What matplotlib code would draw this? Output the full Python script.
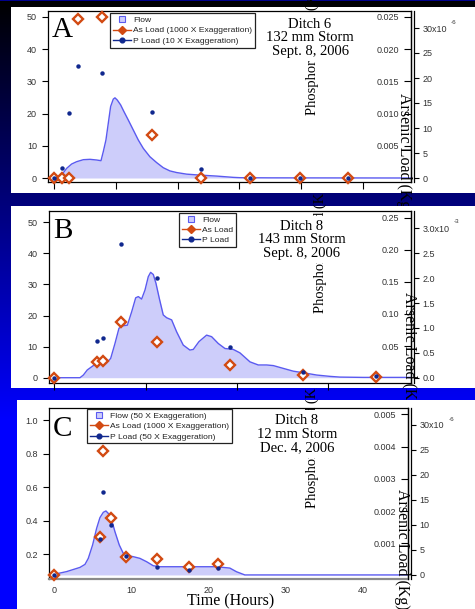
import numpy as np
import matplotlib
matplotlib.use("Agg")
import matplotlib.pyplot as plt
from matplotlib.lines import Line2D
from matplotlib.patches import Rectangle

W, H = 475, 609
SANS = ["Liberation Sans", "DejaVu Sans"]
SERIF = ["Liberation Serif", "DejaVu Serif"]

FLOW_FILL = "#cdcdfa"
FLOW_LINE = "#5a5af0"
AS_COLOR = "#d24a12"
P_COLOR = "#10288e"
TICK_TXT = "#333333"

# ---- Ditch 6, 132 mm storm, Sept. 8, 2006 ----
a_flow_t = [0, 1.24, 2.05, 2.86, 3.67, 4.75, 5.83, 6.9, 7.61, 7.98, 8.41, 8.79, 9.17,
            9.6, 9.87, 10.25, 10.79, 11.33, 12.03, 12.84, 13.65, 14.46, 15.53, 16.61,
            17.69, 18.77, 19.85, 21.47, 23.63, 26.32, 29.02, 30.1, 35.0, 57.8]
a_flow = [0, 0.93, 3.0, 4.35, 5.07, 5.69, 5.8, 5.59, 5.38, 8.18, 11.8, 17.0, 22.2,
          24.5, 24.9, 24.2, 22.7, 20.6, 18.0, 14.9, 11.8, 9.2, 6.6, 4.8,
          3.2, 2.2, 1.7, 1.2, 0.9, 0.6, 0.2, 0.1, 0.05, 0.0]
a_sample_t = [0, 1.29, 2.43, 3.94, 7.82, 15.8, 23.84, 31.8, 39.8, 47.6]
a_as_load = [0, 0, 0, 49.4, 50.1, 13.5, 0, 0, 0, 0]
a_p_load = [0, 3.0, 20.1, 34.8, 32.5, 20.6, 2.8, 0, 0, 0]

# ---- Ditch 8, 143 mm storm, Sept. 8, 2006 ----
b_flow_t = [0, 2.81, 3.18, 3.61, 4.27, 5.0, 5.73, 6.17, 6.64, 7.08, 7.48, 8.0, 8.47,
            8.91, 9.2, 9.56, 9.93, 10.29, 10.55, 10.84, 11.13, 11.5, 11.93, 12.3,
            12.85, 13.39, 14.12, 14.85, 15.22, 15.84, 16.68, 17.23, 17.96, 18.69,
            19.6, 20.33, 21.43, 22.34, 23.26, 23.99, 25.08, 26.18, 27.27, 28.74,
            30.2, 31.29, 33.84, 39.0]
b_flow = [0, 0, 0.86, 2.5, 3.9, 4.4, 4.8, 6.2, 11.0, 15.9, 16.7, 16.9, 21.2,
          25.7, 26.1, 25.3, 28.2, 32.5, 33.9, 33.2, 30.4, 25.5, 20.2, 19.3,
          18.6, 14.8, 10.5, 8.9, 9.1, 11.6, 13.7, 13.2, 11.0, 9.4,
          9.1, 8.0, 5.1, 4.1, 4.1, 3.9, 3.0, 2.1, 1.6, 0.86,
          0.43, 0.2, 0.1, 0.1]
b_sample_t = [0, 4.64, 5.29, 7.3, 11.28, 19.23, 27.27, 35.2]
b_as_load = [0, 4.93, 5.36, 17.8, 11.58, 3.97, 0.75, 0.21]
b_p_load = [0, 11.9, 12.66, 43.1, 31.96, 9.76, 1.93, 0.54]

# ---- Ditch 8, 12 mm storm, Dec. 4, 2006 ----
c_flow_t = [0, 1.6, 3.33, 3.98, 4.41, 4.97, 5.49, 5.92, 6.36, 6.7, 7.0, 7.44, 7.87,
            8.43, 8.95, 9.6, 10.25, 11.11, 11.98, 12.84, 13.7, 16.73, 21.05, 22.78,
            23.65, 24.73, 45.9]
c_flow = [0.079, 0.095, 0.12, 0.138, 0.174, 0.254, 0.353, 0.417, 0.449, 0.457, 0.443,
          0.403, 0.333, 0.254, 0.204, 0.19, 0.184, 0.174, 0.154, 0.13, 0.124, 0.124,
          0.124, 0.116, 0.094, 0.075, 0.075]
c_sample_t = [0, 5.92, 6.36, 7.31, 9.25, 13.36, 17.47, 21.27]
c_as_load = [0.075, 0.30, 0.817, 0.413, 0.18, 0.168, 0.124, 0.142]
c_p_load = [0.075, 0.288, 0.572, 0.373, 0.19, 0.12, 0.104, 0.116]

panel_letters = ["A", "B", "C"]
storm_notes = ["Ditch 6\n132 mm Storm\nSept. 8, 2006",
               "Ditch 8\n143 mm Storm\nSept. 8, 2006",
               "Ditch 8\n12 mm Storm\nDec. 4, 2006"]
legend_labels = [
    ["Flow", "As Load (1000 X Exaggeration)", "P Load (10 X Exaggeration)"],
    ["Flow", "As Load", "P Load"],
    ["Flow (50 X Exaggeration)", "As Load (1000 X Exaggeration)", "P Load (50 X Exaggeration)"],
]
flow_ticks = [[0, 10, 20, 30, 40, 50], [0, 10, 20, 30, 40, 50], [0.2, 0.4, 0.6, 0.8, 1.0]]
flow_tick_labels = [["0", "10", "20", "30", "40", "50"], ["0", "10", "20", "30", "40", "50"],
                    ["0.2", "0.4", "0.6", "0.8", "1.0"]]
p_ticks = [[0.005, 0.010, 0.015, 0.020, 0.025], [0.05, 0.10, 0.15, 0.20, 0.25],
           [0.001, 0.002, 0.003, 0.004, 0.005]]
p_tick_labels = [["0.005", "0.010", "0.015", "0.020", "0.025"],
                 ["0.05", "0.10", "0.15", "0.20", "0.25"],
                 ["0.001", "0.002", "0.003", "0.004", "0.005"]]
as_ticks = [[0, 5e-6, 10e-6, 15e-6, 20e-6, 25e-6, 30e-6],
            [0, 0.5e-3, 1.0e-3, 1.5e-3, 2.0e-3, 2.5e-3, 3.0e-3],
            [0, 5e-6, 10e-6, 15e-6, 20e-6, 25e-6, 30e-6]]
as_tick_labels = [["0", "5", "10", "15", "20", "25", "30x10"],
                  ["0.0", "0.5", "1.0", "1.5", "2.0", "2.5", "3.0x10"],
                  ["0", "5", "10", "15", "20", "25", "30x10"]]
as_exponents = ["-6", "-3", "-6"]
time_ticks = [[0, 10, 20, 30, 40, 50], [0, 10, 20, 30], [0, 10, 20, 30, 40]]

flows = [(a_flow_t, a_flow), (b_flow_t, b_flow), (c_flow_t, c_flow)]
samples = [(a_sample_t, a_as_load, a_p_load), (b_sample_t, b_as_load, b_p_load),
           (c_sample_t, c_as_load, c_p_load)]

# ---- layout, in pixels from the top-left corner ----
layout = [
    dict(panel=(11, 7, 475, 193), box=(48, 11, 411, 182), clip_top=0,
         xlim=(-0.97, 57.8), ylim=(-1.24, 51.86), plim=(-0.00062, 0.02593),
         aslim=(-0.8e-6, 33.4e-6), letter=(52, 37), note=(310, 37.5),
         plabel=(312, 115), aslabel=(404, 93), legend=(110, 13.3), exp=(451, 22.5),
         xlabels=False),
    dict(panel=(11, 206, 475, 388), box=(48.5, 210.7, 411, 383), clip_top=193,
         xlim=(-0.64, 39.07), ylim=(-1.7, 53.73), plim=(-0.0076, 0.261),
         aslim=(-0.106e-3, 3.353e-3), letter=(53, 237.7), note=(301.7, 239.8),
         plabel=(320.7, 313.3), aslabel=(409, 291.7), legend=(179.3, 212.7), exp=(454, 221.7),
         xlabels=False),
    dict(panel=(17, 400, 475, 609), box=(49.3, 408.3, 408, 579.3), clip_top=388,
         xlim=(-0.65, 45.9), ylim=(0.049, 1.07), plim=(-0.000115, 0.005188),
         aslim=(-0.86e-6, 33.3e-6), letter=(53, 435.7), note=(296.7, 434),
         plabel=(312.3, 508.3), aslabel=(401.7, 489), legend=(87.3, 409), exp=(449, 419.5),
         xlabels=True),
]


def rect(l, t, r, b):
    return [l / W, 1 - b / H, (r - l) / W, (b - t) / H]


def fx(x):
    return x / W


def fy(y):
    return 1 - y / H


fig = plt.figure(figsize=(W / 100, H / 100), dpi=100)

# slide background: black at the top fading to blue
bg = fig.add_axes([0, 0, 1, 1])
rows = np.arange(H)
grad = np.zeros((H, 2, 3))
grad[:, :, 2] = np.clip(rows / 420.0, 0, 1)[:, None]
grad[0, :, 2] = 0.55
bg.imshow(grad, extent=[0, 1, 0, 1], aspect="auto", origin="upper")
bg.set_axis_off()

for i in range(3):
    L = layout[i]
    ft, fv = flows[i]
    st, as_load, p_load = samples[i]

    pan = fig.add_axes(rect(*L["panel"]))
    pan.set_facecolor("white")
    pan.set_xticks([])
    pan.set_yticks([])
    for s in pan.spines.values():
        s.set_visible(False)

    ax = fig.add_axes(rect(*L["box"]))
    ax.set_facecolor("none")
    ax.fill_between(ft, min(fv), fv, color=FLOW_FILL, lw=0, zorder=1)
    ax.plot(ft, fv, color=FLOW_LINE, lw=1.0, zorder=2)
    ax.plot(st, as_load, ls="none", marker="D", ms=4.8, mfc="white", mec=AS_COLOR,
            mew=1.7, zorder=3, clip_on=False)
    ax.plot(st, p_load, ls="none", marker="o", ms=3.2, color=P_COLOR, mew=0,
            zorder=4, clip_on=False)
    ax.set_xlim(*L["xlim"])
    ax.set_ylim(*L["ylim"])
    for side in ["left", "top", "right"]:
        ax.spines[side].set_color("black")
        ax.spines[side].set_linewidth(0.9)
    if i == 2:
        ax.spines["bottom"].set_color("#8a8a8a")
        ax.spines["bottom"].set_linewidth(1.6)
    else:
        ax.spines["bottom"].set_color("black")
        ax.spines["bottom"].set_linewidth(0.9)
    ax.set_yticks(flow_ticks[i], flow_tick_labels[i])
    ax.set_xticks(time_ticks[i])
    ax.tick_params(axis="y", direction="out", length=4.5, width=0.8, pad=3.5,
                   labelsize=6.5, labelcolor=TICK_TXT)
    for lab in ax.get_yticklabels():
        lab.set_fontfamily(SANS)
    if L["xlabels"]:
        ax.tick_params(axis="x", direction="out", length=0, pad=5, labelsize=6.5,
                       labelcolor=TICK_TXT)
        for lab in ax.get_xticklabels():
            lab.set_fontfamily(SANS)
    else:
        ax.tick_params(axis="x", direction="out", length=5, width=0.8, labelbottom=False)

    # phosphorus scale: ticks and labels inside the right frame
    axp = ax.twinx()
    axp.set_ylim(*L["plim"])
    axp.spines["left"].set_position(("axes", 1.0))
    axp.yaxis.set_ticks_position("left")
    for side in ["right", "top", "bottom"]:
        axp.spines[side].set_visible(False)
    axp.spines["left"].set_linewidth(0.9)
    axp.set_yticks(p_ticks[i], p_tick_labels[i])
    axp.tick_params(axis="y", direction="out", length=5, width=0.8, pad=3.5,
                    labelsize=6.5, labelcolor=TICK_TXT)
    for lab in axp.get_yticklabels():
        lab.set_fontfamily(SANS)

    # arsenic scale: just outside the right frame
    axa = ax.twinx()
    axa.set_ylim(*L["aslim"])
    axa.spines["right"].set_position(("outward", 2.0))
    for side in ["left", "top", "bottom"]:
        axa.spines[side].set_visible(False)
    axa.spines["right"].set_linewidth(0.9)
    axa.set_yticks(as_ticks[i], as_tick_labels[i])
    axa.tick_params(axis="y", direction="out", length=3.8, width=0.8, pad=2.5,
                    labelsize=6.5, labelcolor=TICK_TXT)
    for lab in axa.get_yticklabels():
        lab.set_fontfamily(SANS)

    # legend
    handles = [
        Line2D([], [], ls="none", marker="s", ms=5, mfc=FLOW_FILL, mec=FLOW_LINE, mew=0.8),
        Line2D([], [], color=AS_COLOR, lw=1.0, marker="D", ms=3.6, mfc=AS_COLOR, mec=AS_COLOR),
        Line2D([], [], color=P_COLOR, lw=1.0, marker="o", ms=3.4, mfc=P_COLOR, mec=P_COLOR),
    ]
    leg = axa.legend(handles, legend_labels[i], loc="upper left",
                     bbox_to_anchor=(fx(L["legend"][0]), fy(L["legend"][1])),
                     bbox_transform=fig.transFigure, borderaxespad=0,
                     prop={"family": SANS, "size": 6.1}, frameon=True, fancybox=False,
                     edgecolor="#222222", framealpha=1, handlelength=2.1,
                     handletextpad=0.25, labelspacing=0.28, borderpad=0.35)
    leg.get_frame().set_linewidth(0.9)
    for t in leg.get_texts():
        t.set_color("#222222")

    clip = Rectangle((0, 0), 1, fy(L["clip_top"]), transform=fig.transFigure)
    texts = []
    texts.append(axa.text(fx(L["plabel"][0]), fy(L["plabel"][1]), "Phosphorus Load (Kg)",
                          transform=fig.transFigure, rotation=90, ha="center", va="bottom",
                          fontsize=10.5, family=SERIF, color="black", zorder=6))
    texts.append(axa.text(fx(L["aslabel"][0]), fy(L["aslabel"][1]), "Arsenic Load (Kg)",
                          transform=fig.transFigure, rotation=270, ha="center", va="top",
                          fontsize=11.5, family=SERIF, color="black", zorder=6))
    texts.append(axa.text(fx(L["note"][0]), fy(L["note"][1]), storm_notes[i],
                          transform=fig.transFigure, ha="center", va="center",
                          multialignment="center", linespacing=1.05,
                          fontsize=10.5, family=SERIF, color="black", zorder=7,
                          bbox=dict(boxstyle="square,pad=0.25", fc="white", ec="none")))
    texts.append(axa.text(fx(L["letter"][0]), fy(L["letter"][1]), panel_letters[i],
                          transform=fig.transFigure, ha="left", va="baseline",
                          fontsize=21, family=SERIF, color="black", zorder=7))
    texts.append(axa.text(fx(L["exp"][0]), fy(L["exp"][1]), as_exponents[i],
                          transform=fig.transFigure, ha="left", va="center",
                          fontsize=4.5, family=SANS, color=TICK_TXT, zorder=7))
    if L["xlabels"]:
        texts.append(axa.text(fx(230.8), fy(601), "Time (Hours)", transform=fig.transFigure,
                              ha="center", va="center", fontsize=11.5, family=SERIF,
                              color="black", zorder=7))
    for t in texts:
        t.set_clip_on(True)
        t.set_clip_path(clip)

fig.savefig("out.png", dpi=100)
